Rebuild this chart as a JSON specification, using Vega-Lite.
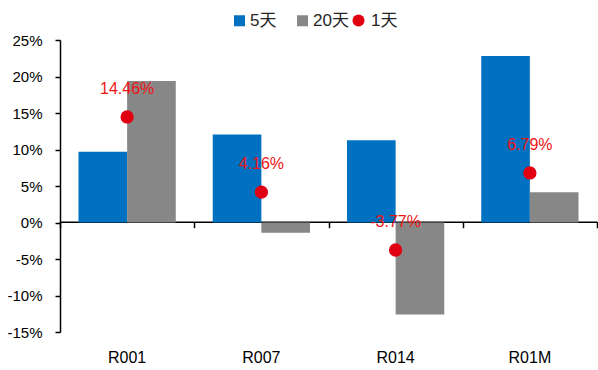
{
  "$schema": "https://vega.github.io/schema/vega-lite/v6.json",
  "width": 537,
  "height": 292,
  "autosize": "none",
  "padding": {"left": 60, "top": 40, "right": 1, "bottom": 38},
  "background": "white",
  "config": {
    "view": {"stroke": null},
    "font": "Liberation Sans, Noto Sans CJK SC",
    "locale": {"number": {"decimal": ".", "thousands": ",", "grouping": [3], "currency": ["$", ""], "minus": "-"}},
    "axis": {"domainColor": "#000000", "tickColor": "#000000", "labelColor": "#000000", "labelFontSize": 15, "grid": false, "title": null},
    "legend": {"labelFontSize": 17, "labelColor": "#262626", "title": null, "padding": 0}
  },
  "datasets": {
    "bars": [
      {"term": "R001", "series": "5天", "value": 0.0968},
      {"term": "R001", "series": "20天", "value": 0.194},
      {"term": "R007", "series": "5天", "value": 0.1205},
      {"term": "R007", "series": "20天", "value": -0.0141},
      {"term": "R014", "series": "5天", "value": 0.1128},
      {"term": "R014", "series": "20天", "value": -0.126},
      {"term": "R01M", "series": "5天", "value": 0.228},
      {"term": "R01M", "series": "20天", "value": 0.0416}
    ],
    "daily": [
      {"term": "R001", "daily": "1天", "value": 0.1446},
      {"term": "R007", "daily": "1天", "value": 0.0416},
      {"term": "R014", "daily": "1天", "value": -0.0377},
      {"term": "R01M", "daily": "1天", "value": 0.0679}
    ]
  },
  "layer": [
    {
      "data": {"name": "bars"},
      "mark": {"type": "bar"},
      "encoding": {
        "x": {
          "field": "term", "type": "nominal", "sort": null,
          "scale": {"paddingInner": 0, "paddingOuter": 0},
          "axis": {"orient": "bottom", "domain": false, "ticks": false, "labelPadding": 17, "labelAngle": 0, "labelFontSize": 16}
        },
        "xOffset": {
          "field": "series", "type": "nominal", "sort": ["5天", "20天"],
          "scale": {"paddingInner": 0, "paddingOuter": 0.38}
        },
        "y": {
          "field": "value", "type": "quantitative",
          "scale": {"domain": [-0.15, 0.25], "nice": false, "zero": false},
          "axis": {"values": [-0.15, -0.1, -0.05, 0, 0.05, 0.1, 0.15, 0.2, 0.25], "format": ".0%", "tickSize": 5, "labelPadding": 13, "domainWidth": 1.5, "tickWidth": 1.5}
        },
        "color": {
          "field": "series", "type": "nominal",
          "scale": {"domain": ["5天", "20天"], "range": ["#0070C0", "#878787"]},
          "legend": {"orient": "none", "legendX": 171, "legendY": -28, "direction": "horizontal", "symbolType": "square", "symbolSize": 121, "columnPadding": 17, "labelOffset": 2}
        }
      }
    },
    {
      "data": {"name": "daily"},
      "mark": {"type": "circle", "size": 177, "opacity": 1},
      "encoding": {
        "x": {
          "field": "term", "type": "nominal", "sort": null,
          "axis": {"orient": "bottom", "offset": -110.3, "labels": false, "domain": true, "domainWidth": 1.5, "ticks": true, "tickBand": "extent", "tickSize": 6, "tickWidth": 1.5}
        },
        "y": {"field": "value", "type": "quantitative", "axis": null},
        "color": {
          "field": "daily", "type": "nominal",
          "scale": {"domain": ["1天"], "range": ["#E00012"]},
          "legend": {"orient": "none", "legendX": 290, "legendY": -28, "direction": "horizontal", "symbolType": "circle", "symbolSize": 145, "labelOffset": 4}
        }
      }
    },
    {
      "data": {"name": "daily"},
      "mark": {"type": "text", "dy": -28, "fontSize": 16, "color": "#F01414"},
      "encoding": {
        "x": {"field": "term", "type": "nominal", "sort": null, "axis": null},
        "y": {"field": "value", "type": "quantitative", "axis": null},
        "text": {"field": "value", "type": "quantitative", "format": ".2%"}
      }
    }
  ],
  "resolve": {"scale": {"color": "independent"}, "legend": {"color": "independent"}, "axis": {"x": "independent", "y": "independent"}}
}
